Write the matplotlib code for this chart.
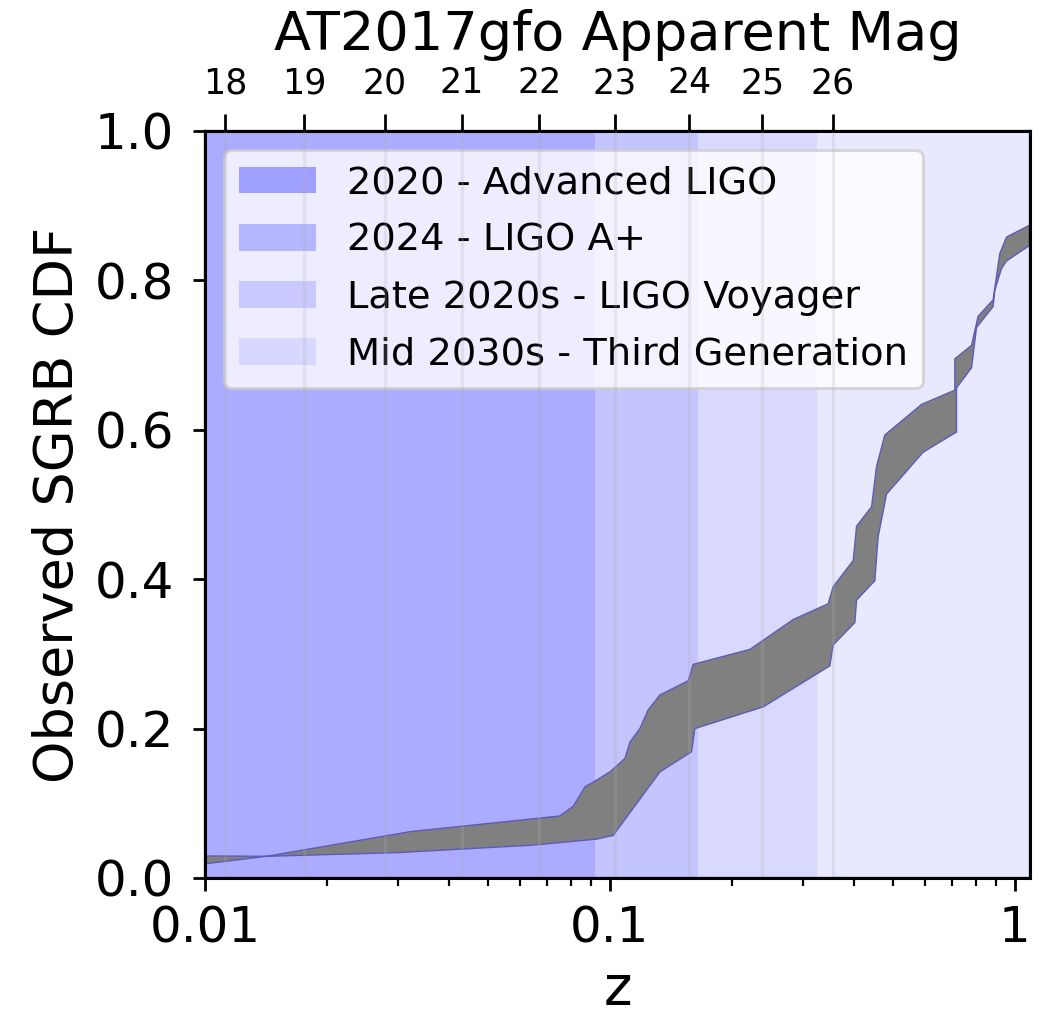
import numpy as np
import matplotlib
matplotlib.use('Agg')
import matplotlib.pyplot as plt
from matplotlib.ticker import FixedLocator, NullLocator, FuncFormatter

# detector era boundaries in z (background shading)
era_labels = ['2020 - Advanced LIGO', '2024 - LIGO A+',
              'Late 2020s - LIGO Voyager', 'Mid 2030s - Third Generation']
era_edges = [0.01, 0.0918, 0.165, 0.324, 1.09]
era_alpha = [0.33, 0.23, 0.15, 0.09]

# upper / lower edge of the observed SGRB CDF band
band_a_z = [0.0100, 0.0142, 0.0321, 0.0752, 0.0812, 0.0868, 0.0927, 0.1000,
            0.1089, 0.1121, 0.1186, 0.1243, 0.1329, 0.1561, 0.1606, 0.2217,
            0.2836, 0.3459, 0.3560, 0.3989, 0.4066, 0.4429, 0.4556, 0.4775,
            0.5886, 0.7111, 0.7111, 0.7818, 0.8117, 0.8839, 0.9183, 0.9539, 1.089]
band_a_cdf = [0.019, 0.029, 0.062, 0.083, 0.096, 0.122, 0.131, 0.142,
              0.160, 0.182, 0.200, 0.225, 0.245, 0.264, 0.286, 0.306,
              0.346, 0.367, 0.390, 0.425, 0.471, 0.497, 0.551, 0.593,
              0.634, 0.653, 0.695, 0.713, 0.752, 0.774, 0.836, 0.858, 0.874]
band_b_z = [0.0100, 0.0142, 0.0301, 0.0645, 0.0927, 0.1019, 0.1329, 0.1591,
            0.1621, 0.2390, 0.3493, 0.3560, 0.4027, 0.4066, 0.4511, 0.4597,
            0.4822, 0.5937, 0.7178, 0.7178, 0.7818, 0.8043, 0.8839, 0.8925,
            0.9272, 0.9539, 1.089]
band_b_cdf = [0.0295, 0.029, 0.034, 0.044, 0.052, 0.057, 0.142, 0.169,
              0.200, 0.229, 0.284, 0.312, 0.342, 0.372, 0.398, 0.457,
              0.514, 0.570, 0.597, 0.656, 0.683, 0.737, 0.765, 0.787,
              0.816, 0.826, 0.847]

# AT2017gfo apparent magnitude at redshift z (top axis)
mag_values = [18, 19, 20, 21, 22, 23, 24, 25, 26]
mag_z = [0.0112, 0.0176, 0.0278, 0.0431, 0.0669, 0.103, 0.157, 0.238, 0.355]

fig = plt.figure(figsize=(5.24, 5.085), dpi=200)
ax = fig.add_axes([0.1956, 0.1367, 0.7872, 0.7345])

for i, lab in enumerate(era_labels):
    ax.axvspan(era_edges[i], era_edges[i + 1], color='blue',
               alpha=era_alpha[i], lw=0, label=lab)

zz = np.concatenate([band_a_z, band_b_z[::-1]])
cc = np.concatenate([band_a_cdf, band_b_cdf[::-1]])
ax.fill(zz, cc, facecolor='gray', edgecolor='#5c5cb8', lw=0.5, zorder=2)

ax.set_xscale('log')
ax.set_xlim(era_edges[0], era_edges[-1])
ax.set_ylim(0, 1)
ax.xaxis.set_major_formatter(FuncFormatter(lambda v, p: '{:g}'.format(v)))
ax.set_yticks([0, 0.2, 0.4, 0.6, 0.8, 1.0])
ax.tick_params(axis='both', which='major', labelsize=18, length=4.5, width=1, pad=5)
ax.tick_params(axis='y', pad=6.5)
ax.tick_params(axis='x', which='minor', length=3, width=0.8)
ax.set_xlabel('z', fontsize=19.5)
ax.set_ylabel('Observed SGRB CDF', fontsize=19.5)
for sp in ax.spines.values():
    sp.set_linewidth(1.1)

ax.legend(loc='upper left', fontsize=13.8, labelspacing=0.55)

# top axis: apparent magnitude of AT2017gfo
ax2 = ax.twiny()
ax2.set_xscale('log')
ax2.set_xlim(ax.get_xlim())
ax2.xaxis.set_major_locator(FixedLocator(mag_z))
ax2.xaxis.set_minor_locator(NullLocator())
ax2.set_xticklabels([str(m) for m in mag_values])
ax2.tick_params(axis='x', labelsize=12.5, length=6, width=1, pad=5)
ax2.grid(True, axis='x', color='#b0b0b0', alpha=0.22, lw=1.2)
ax2.set_xlabel('AT2017gfo Apparent Mag', fontsize=19.5, labelpad=6)

plt.savefig('out.png', dpi=200)
